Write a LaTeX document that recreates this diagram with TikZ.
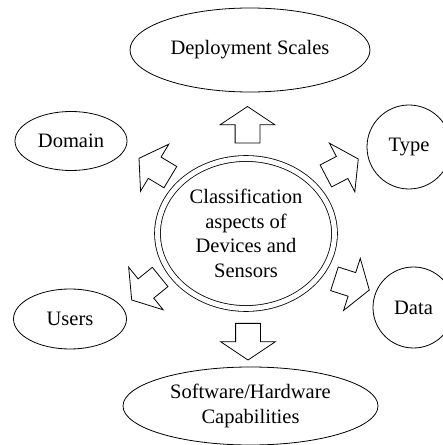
\documentclass[tikz,border=0pt]{standalone}
\usepackage{fontspec}
\setmainfont{Liberation Serif}
\usetikzlibrary{shapes.geometric,shapes.arrows}

\tikzset{
  aspect/.style={draw, ellipse, line width=0.8pt, inner sep=0pt, align=center,
    font=\fontsize{20.5}{24.5}\selectfont},
  blockarrow/.style={draw, single arrow, line width=0.8pt, anchor=tip,
    inner xsep=0pt, inner ysep=12pt, text height=0pt, text depth=0pt,
    outer sep=0pt, minimum height=36.6pt, minimum width=54pt,
    single arrow head extend=15pt, single arrow tip angle=112.6}
}

\begin{document}
\begin{tikzpicture}[x=1pt,y=1pt]
    \useasboundingbox (0,0) rectangle (443,445);
    \clip (0,0) rectangle (443,445);
    % the centre
    \node[aspect, double, double distance=5pt, minimum width=177pt,
        minimum height=150pt] (cls) at (246,211.5)
        {Classification\\aspects of\\Devices and\\Sensors};
    % aspects round it
    \node[aspect, minimum width=240pt, minimum height=84pt] (dep) at (250,395) {Deployment Scales};
    \node[aspect, minimum width=112pt, minimum height=59pt] (dom) at (71,304) {Domain};
    \node[aspect, minimum width=84pt, minimum height=84pt] (typ) at (409,298) {Type};
    \node[aspect, minimum width=81pt, minimum height=81pt] (dat) at (413.5,137.5) {Data};
    \node[aspect, minimum width=113pt, minimum height=60pt] (usr) at (70,126) {Users};
    \node[aspect, minimum width=255pt, minimum height=78pt] (sw) at (250.5,39)
        {Software/Hardware\\Capabilities};
    % block arrows, placed by their tips
    \node[blockarrow, rotate=90] (adep) at (247.5,338.5) {};
    \node[blockarrow, rotate=-90] (asw) at (248,85) {};
    \node[blockarrow, rotate=149] (adom) at (139,286.7) {};
    \node[blockarrow, rotate=27.6] (atyp) at (358.3,286) {};
    \node[blockarrow, rotate=219] (ausr) at (131.7,145) {};
    \node[blockarrow, rotate=-17.8] (adat) at (369.3,155) {};
\end{tikzpicture}
\end{document}
